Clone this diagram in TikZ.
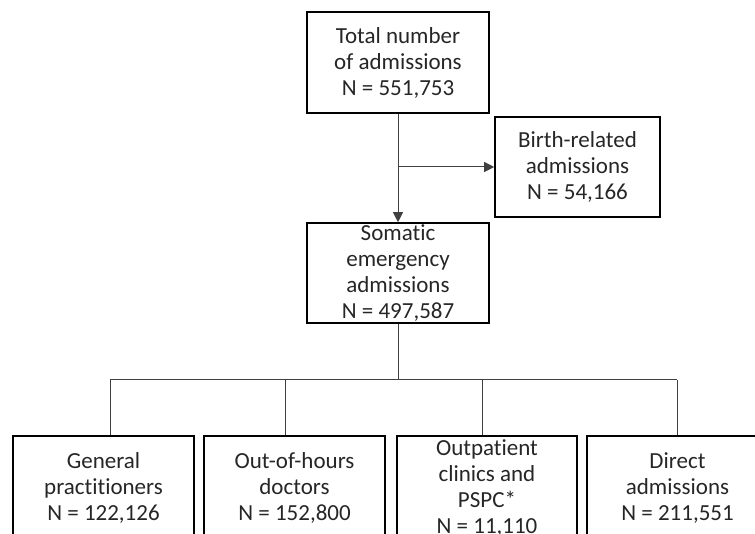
\documentclass[tikz,border=0pt]{standalone}
\usepackage{fontspec}
\setmainfont{Carlito}[Ligatures=NoCommon]
\usetikzlibrary{positioning}
\usetikzlibrary{arrows.meta}
\usetikzlibrary{calc}

\begin{document}
\begin{tikzpicture}[
                    x=1pt, y=-1pt,
                    every node/.style={align=center, inner sep=0pt, text=black!85, font=\fontsize{23}{26}\selectfont},
                    box/.style={draw=black, line width=1.6pt, minimum width=182pt, minimum height=101pt},
                    lowbox/.style={box, minimum width=181pt, minimum height=104pt},
                    link/.style={draw=black!75, line width=1pt},
                    arrow/.style={link, -{Triangle[length=10pt,width=10pt]}}
                ]
                \useasboundingbox (0,0) rectangle (755,534);
                \clip (0,0) rectangle (755,534);
                % stages
                \node[box] (total) at (398,62.5) {Total number\\of admissions\\N = 551,753};
                \node[box, minimum width=165pt, minimum height=100pt] (birth) at (577.5,167) {Birth-related\\admissions\\N = 54,166};
                \node[box, minimum height=100pt] (somatic) at (398,273) {Somatic\\emergency\\admissions\\N = 497,587};
                % referral sources
                \node[lowbox] (gp) at (103.5,488) {General\\practitioners\\N = 122,126};
                \node[lowbox] (ooh) at (294.5,488) {Out-of-hours\\doctors\\N = 152,800};
                \node[lowbox, minimum width=180pt] (opc) at (487,488) {Outpatient\\clinics and\\PSPC*\\N = 11,110};
                \node[lowbox] (direct) at (677.5,488) {Direct\\admissions\\N = 211,551};
                % connectors
                \coordinate (split) at (total.south |- birth.west);
                \draw[arrow] (total.south) -- (somatic.north);
                \draw[arrow] (split) -- (birth.west);
                \coordinate (hub) at (somatic.south |- 0,380);
                \coordinate (b1) at (110,380);
                \coordinate (b2) at (285,380);
                \coordinate (b3) at (482,380);
                \coordinate (b4) at (677,380);
                \draw[link] (somatic.south) -- (hub);
                \draw[link] (b1) -- (b4);
                \foreach \b/\n in {b1/gp, b2/ooh, b3/opc, b4/direct}
                    \draw[link] (\b) -- (\b |- \n.north);
            \end{tikzpicture}
\end{document}
